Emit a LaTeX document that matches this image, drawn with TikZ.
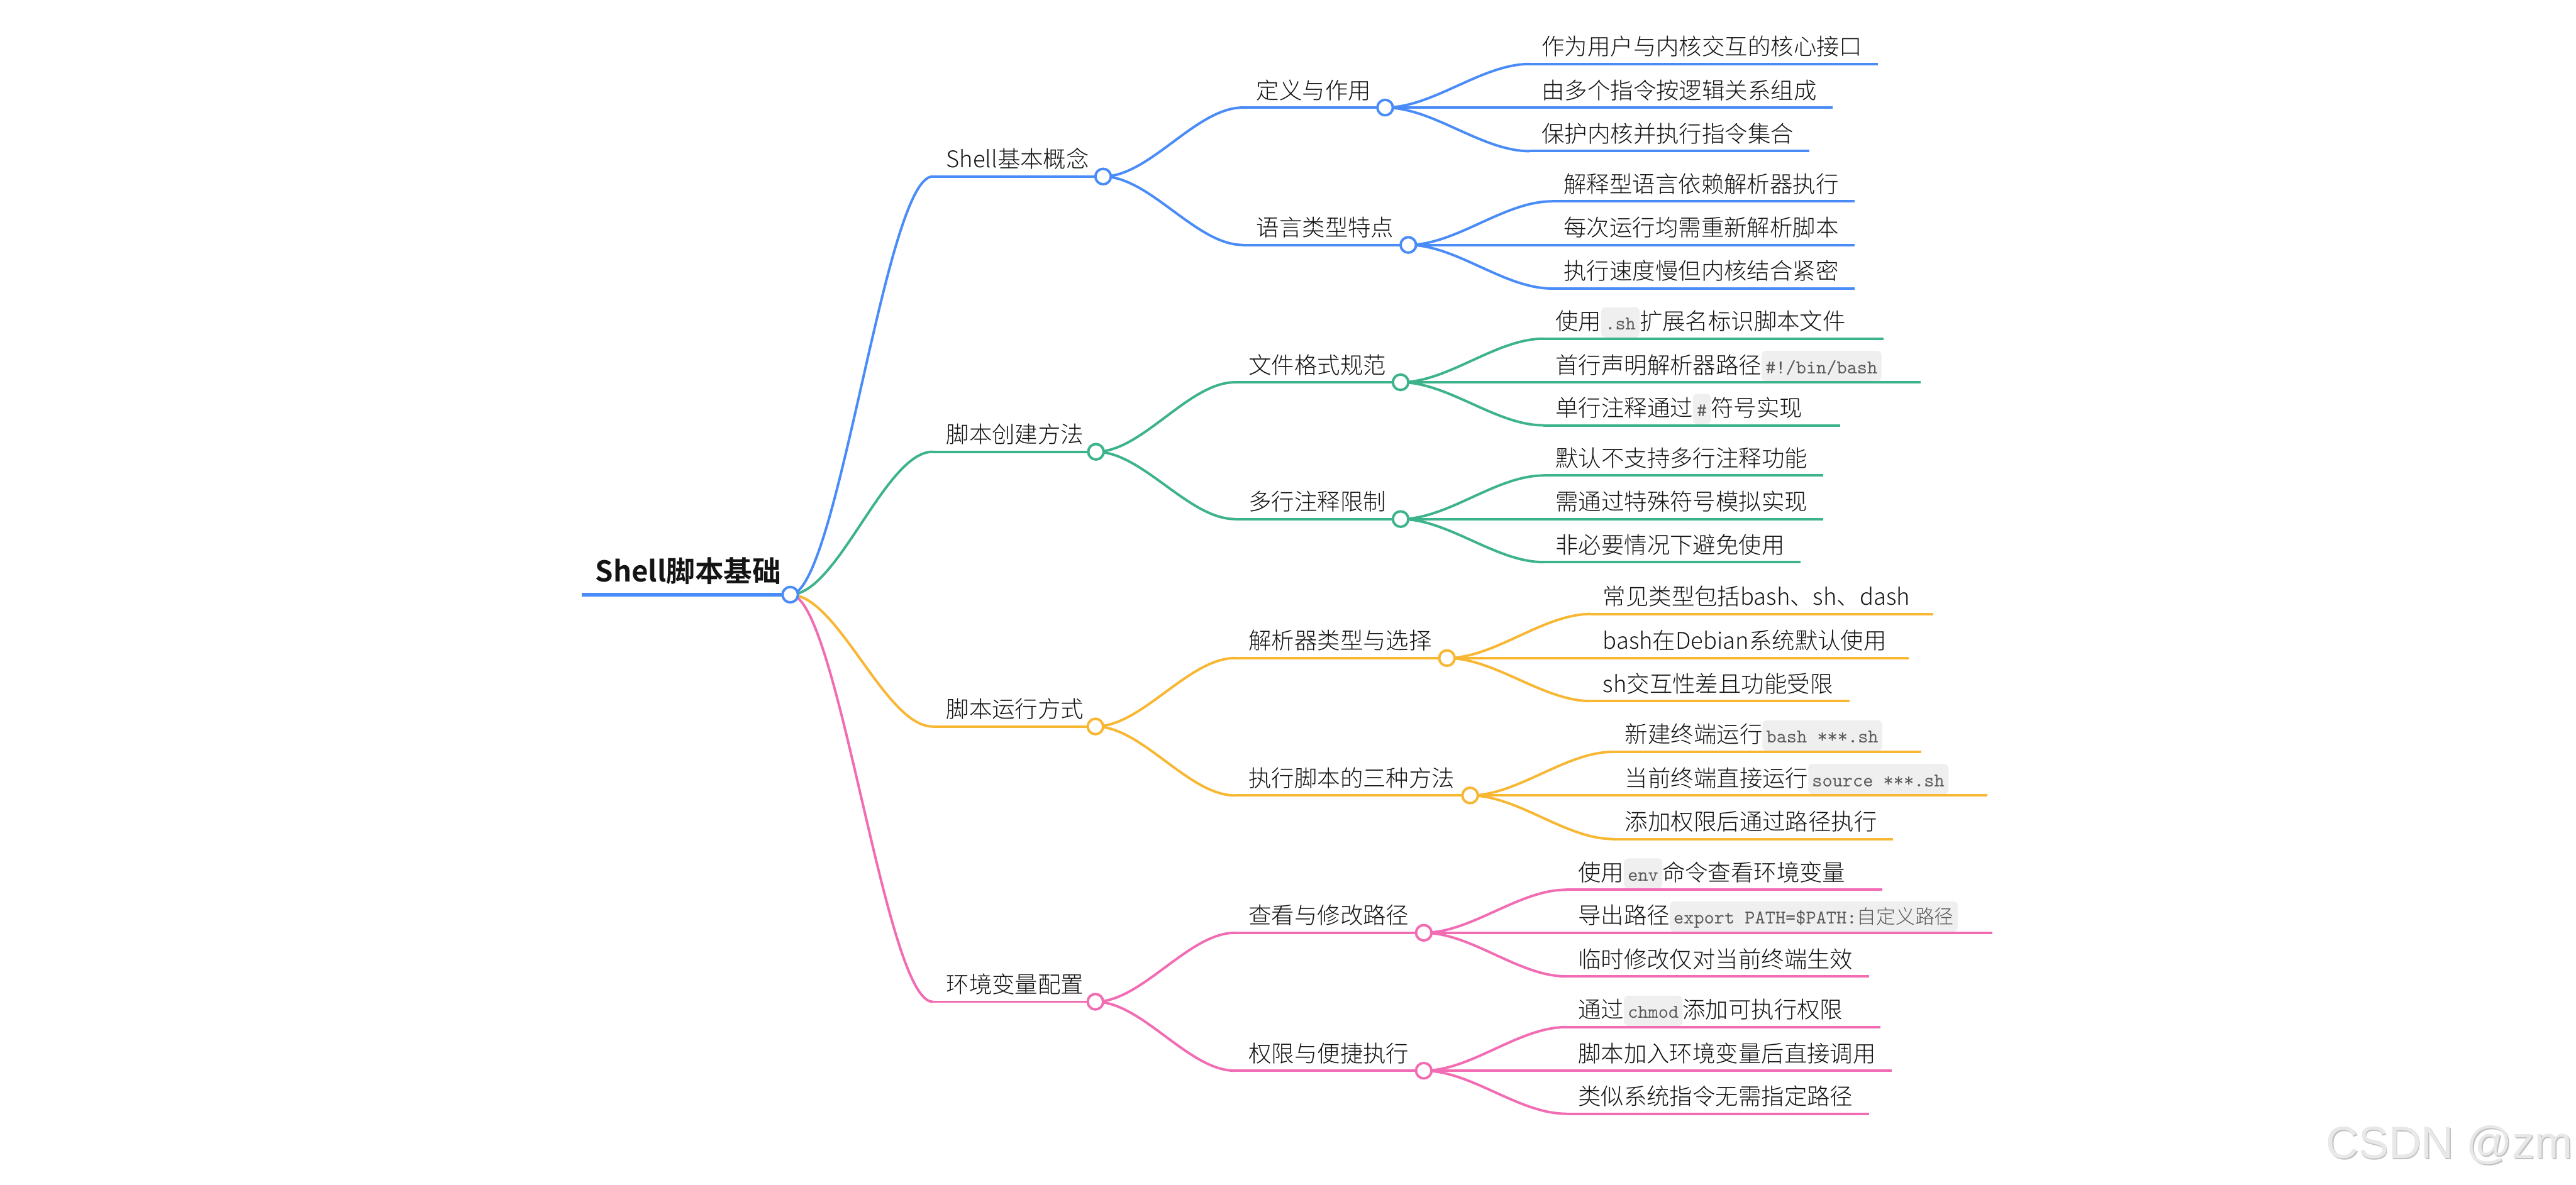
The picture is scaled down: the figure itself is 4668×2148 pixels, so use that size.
\documentclass[tikz,border=0pt]{standalone}
\usepackage{fontspec}
\setmainfont{Noto Sans CJK SC Light}[BoldFont={Noto Sans CJK SC Bold}]
\newfontfamily\wmfont{Liberation Sans}
\usetikzlibrary{calc}
\definecolor{cblue}{HTML}{4A8CF7}
\definecolor{cgreen}{HTML}{3DB38B}
\definecolor{corange}{HTML}{F8B733}
\definecolor{cpink}{HTML}{F26CB4}
\definecolor{chipbg}{HTML}{EFEFEF}
\definecolor{codefg}{HTML}{5A5A5A}
\definecolor{txt}{HTML}{141414}
\tikzset{
  lab/.style={inner sep=0pt, anchor=base west, text=txt, font=\fontsize{11.81pt}{14pt}\selectfont},
  rootlab/.style={lab, font=\fontsize{14.8pt}{17pt}\selectfont\bfseries},
  ln/.style={draw=#1, line width=0.45mm},
  dot/.style={circle, draw=#1, fill=white, line width=0.45mm, minimum size=2.8mm, inner sep=0pt},
  chip/.style={fill=chipbg, rounded corners=0.8mm, inner xsep=0.7mm, inner ysep=0pt,
    text height=4.1mm, text depth=1.4mm, text=codefg,
    font=\fontsize{10pt}{12pt}\selectfont\ttfamily, anchor=base west},
}
\newcommand\cchip[1]{\tikz[baseline=(cc.base)]\node[chip](cc){#1};}
\newcommand\cjkcode[1]{{\fontsize{10pt}{12pt}\selectfont\rmfamily #1}}
% leaf: name, startx, y, text
\newcommand\leaf[4]{\coordinate (#1s) at (#2,#3); \node[lab] (#1) at (#2+21,#3-16) {#4};}
% inner node: name, startx, y, circlex, text
\newcommand\mnode[5]{\coordinate (#1s) at (#2,#3); \coordinate (#1k) at (#4,#3); \node[lab] (#1) at (#2+24,#3-16) {#5};}
\newcommand\mmlink[3]{\draw[ln=#1] let \p1=(#2), \p2=(#3) in (\p1) .. controls ({\x1+(\x2-\x1)/3},\y1) and ({\x1+2*(\x2-\x1)/3},\y2) .. (\p2);}
\newcommand\leafline[3][2.8mm]{\path let \p1=(#3.east), \p2=(#3s) in (\x1+#1,\y2) coordinate (#3e); \draw[ln=#2] (#3s) -- (#3e);}
% [extra]{color}{parent}{leaf}
\newcommand\leafdraw[4][2.8mm]{\mmlink{#2}{#3k}{#4s}\leafline[#1]{#2}{#4}}
\begin{document}
\begin{tikzpicture}[x=0.1mm, y=-0.1mm]
\fill[white] (0,0) rectangle (4668,2148);
\path[use as bounding box] (0,0) rectangle (4668,2148);
% ---------- texts ----------
\coordinate (rts) at (1054,1078); \coordinate (rtk) at (1432,1078);
\node[rootlab] (rt) at (1078,1055) {Shell脚本基础};
\mnode{A}{1690}{320}{1999}{Shell基本概念}
\mnode{B}{1690}{819}{1986}{脚本创建方法}
\mnode{C}{1690}{1317}{1985}{脚本运行方式}
\mnode{D}{1690}{1816}{1985}{环境变量配置}
\mnode{Aa}{2252}{195}{2510}{定义与作用}
\mnode{Ab}{2252}{444}{2552}{语言类型特点}
\mnode{Ba}{2238}{693}{2538}{文件格式规范}
\mnode{Bb}{2238}{941}{2538}{多行注释限制}
\mnode{Ca}{2238}{1193}{2622}{解析器类型与选择}
\mnode{Cb}{2238}{1442}{2664}{执行脚本的三种方法}
\mnode{Da}{2238}{1691}{2580}{查看与修改路径}
\mnode{Db}{2238}{1941}{2580}{权限与便捷执行}
\leaf{Aa1}{2772}{116}{作为用户与内核交互的核心接口}
\leaf{Aa2}{2772}{195}{由多个指令按逻辑关系组成}
\leaf{Aa3}{2772}{274}{保护内核并执行指令集合}
\leaf{Ab1}{2812}{365}{解释型语言依赖解析器执行}
\leaf{Ab2}{2812}{444}{每次运行均需重新解析脚本}
\leaf{Ab3}{2812}{523}{执行速度慢但内核结合紧密}
\leaf{Ba1}{2797}{614}{使用\cchip{.sh}扩展名标识脚本文件}
\leaf{Ba2}{2797}{693}{首行声明解析器路径\cchip{\#!/bin/bash}}
\leaf{Ba3}{2797}{771}{单行注释通过\cchip{\#}符号实现}
\leaf{Bb1}{2797}{862}{默认不支持多行注释功能}
\leaf{Bb2}{2797}{941}{需通过特殊符号模拟实现}
\leaf{Bb3}{2797}{1019}{非必要情况下避免使用}
\leaf{Ca1}{2883}{1113}{常见类型包括bash、sh、dash}
\leaf{Ca2}{2883}{1193}{bash在Debian系统默认使用}
\leaf{Ca3}{2883}{1271}{sh交互性差且功能受限}
\leaf{Cb1}{2923}{1363}{新建终端运行\cchip{bash ***.sh}}
\leaf{Cb2}{2923}{1442}{当前终端直接运行\cchip{source ***.sh}}
\leaf{Cb3}{2923}{1521}{添加权限后通过路径执行}
\leaf{Da1}{2838}{1613}{使用\cchip{env}命令查看环境变量}
\leaf{Da2}{2838}{1691}{导出路径\cchip{export PATH=\$PATH:\cjkcode{自定义路径}}}
\leaf{Da3}{2838}{1770}{临时修改仅对当前终端生效}
\leaf{Db1}{2838}{1862}{通过\cchip{chmod}添加可执行权限}
\leaf{Db2}{2838}{1941}{脚本加入环境变量后直接调用}
\leaf{Db3}{2838}{2019}{类似系统指令无需指定路径}
% ---------- lines ----------
\draw[ln=cblue, line width=0.6mm] (rts) -- (rtk);
\mmlink{cblue}{rtk}{As} \mmlink{cgreen}{rtk}{Bs} \mmlink{corange}{rtk}{Cs} \mmlink{cpink}{rtk}{Ds}
\draw[ln=cblue] (As) -- (Ak); \draw[ln=cgreen] (Bs) -- (Bk);
\draw[ln=corange] (Cs) -- (Ck); \draw[ln=cpink] (Ds) -- (Dk);
\mmlink{cblue}{Ak}{Aas} \mmlink{cblue}{Ak}{Abs}
\mmlink{cgreen}{Bk}{Bas} \mmlink{cgreen}{Bk}{Bbs}
\mmlink{corange}{Ck}{Cas} \mmlink{corange}{Ck}{Cbs}
\mmlink{cpink}{Dk}{Das} \mmlink{cpink}{Dk}{Dbs}
\draw[ln=cblue] (Aas) -- (Aak); \draw[ln=cblue] (Abs) -- (Abk);
\draw[ln=cgreen] (Bas) -- (Bak); \draw[ln=cgreen] (Bbs) -- (Bbk);
\draw[ln=corange] (Cas) -- (Cak); \draw[ln=corange] (Cbs) -- (Cbk);
\draw[ln=cpink] (Das) -- (Dak); \draw[ln=cpink] (Dbs) -- (Dbk);
\leafdraw{cblue}{Aa}{Aa1} \leafdraw{cblue}{Aa}{Aa2} \leafdraw{cblue}{Aa}{Aa3}
\leafdraw{cblue}{Ab}{Ab1} \leafdraw{cblue}{Ab}{Ab2} \leafdraw{cblue}{Ab}{Ab3}
\leafdraw[6.8mm]{cgreen}{Ba}{Ba1} \leafdraw[7mm]{cgreen}{Ba}{Ba2} \leafdraw[6.8mm]{cgreen}{Ba}{Ba3}
\leafdraw{cgreen}{Bb}{Bb1} \leafdraw{cgreen}{Bb}{Bb2} \leafdraw{cgreen}{Bb}{Bb3}
\leafdraw[4.2mm]{corange}{Ca}{Ca1} \leafdraw[4mm]{corange}{Ca}{Ca2} \leafdraw[3mm]{corange}{Ca}{Ca3}
\leafdraw[7mm]{corange}{Cb}{Cb1} \leafdraw[7mm]{corange}{Cb}{Cb2} \leafdraw{corange}{Cb}{Cb3}
\leafdraw[6.6mm]{cpink}{Da}{Da1} \leafdraw[6.2mm]{cpink}{Da}{Da2} \leafdraw{cpink}{Da}{Da3}
\leafdraw[6.7mm]{cpink}{Db}{Db1} \leafdraw{cpink}{Db}{Db2} \leafdraw{cpink}{Db}{Db3}
% ---------- circles ----------
\node[dot=cblue] (rtc) at (rtk) {};
\node[dot=cblue] (Ac) at (Ak) {}; \node[dot=cgreen] (Bc) at (Bk) {};
\node[dot=corange] (Cc) at (Ck) {}; \node[dot=cpink] (Dc) at (Dk) {};
\node[dot=cblue] (Aac) at (Aak) {}; \node[dot=cblue] (Abc) at (Abk) {};
\node[dot=cgreen] (Bac) at (Bak) {}; \node[dot=cgreen] (Bbc) at (Bbk) {};
\node[dot=corange] (Cac) at (Cak) {}; \node[dot=corange] (Cbc) at (Cbk) {};
\node[dot=cpink] (Dac) at (Dak) {}; \node[dot=cpink] (Dbc) at (Dbk) {};
% ---------- watermark ----------
\node[anchor=base west, inner sep=0pt, font={\wmfont\fontsize{23.3pt}{28pt}\selectfont}, text=black!24] (wms) at (4216,2102) {CSDN @zm};
\node[anchor=base west, inner sep=0pt, font={\wmfont\fontsize{23.3pt}{28pt}\selectfont}, text=black!9] (wm) at (4214,2100) {CSDN @zm};
\end{tikzpicture}
\end{document}
